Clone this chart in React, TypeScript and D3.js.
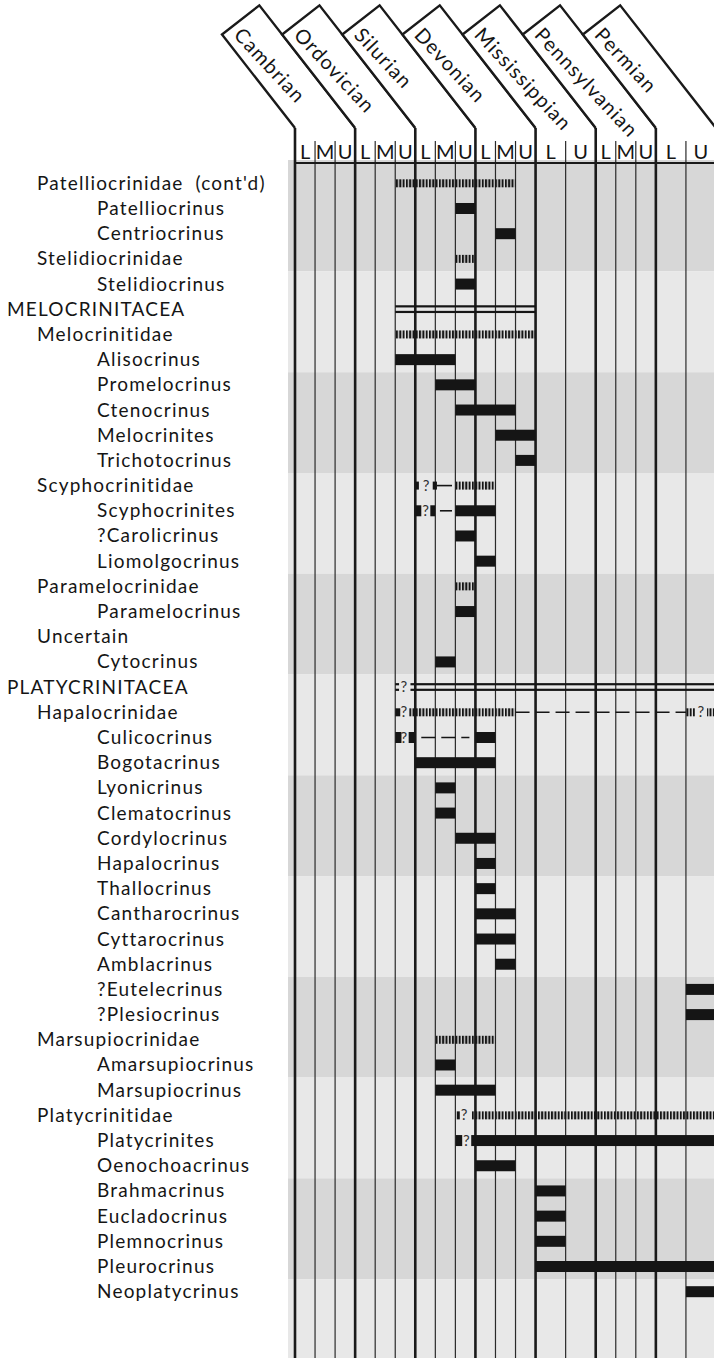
import React from 'react';
import * as d3 from 'd3';

const periods = ['Cambrian', 'Ordovician', 'Silurian', 'Devonian', 'Mississippian', 'Pennsylvanian', 'Permian'];
const divisions = [
  ['L', 'M', 'U'], ['L', 'M', 'U'], ['L', 'M', 'U'], ['L', 'M', 'U'], ['L', 'U'], ['L', 'M', 'U'], ['L', 'U'],
];

const taxa = [
  "Patelliocrinidae (cont'd)", 'Patelliocrinus', 'Centriocrinus', 'Stelidiocrinidae', 'Stelidiocrinus',
  'MELOCRINITACEA', 'Melocrinitidae', 'Alisocrinus', 'Promelocrinus', 'Ctenocrinus', 'Melocrinites',
  'Trichotocrinus', 'Scyphocrinitidae', 'Scyphocrinites', '?Carolicrinus', 'Liomolgocrinus',
  'Paramelocrinidae', 'Paramelocrinus', 'Uncertain', 'Cytocrinus', 'PLATYCRINITACEA', 'Hapalocrinidae',
  'Culicocrinus', 'Bogotacrinus', 'Lyonicrinus', 'Clematocrinus', 'Cordylocrinus', 'Hapalocrinus',
  'Thallocrinus', 'Cantharocrinus', 'Cyttarocrinus', 'Amblacrinus', '?Eutelecrinus', '?Plesiocrinus',
  'Marsupiocrinidae', 'Amarsupiocrinus', 'Marsupiocrinus', 'Platycrinitidae', 'Platycrinites',
  'Oenochoacrinus', 'Brahmacrinus', 'Eucladocrinus', 'Plemnocrinus', 'Pleurocrinus', 'Neoplatycrinus',
];
const levels = [
  1, 2, 2, 1, 2,
  0, 1, 2, 2, 2, 2,
  2, 1, 2, 2, 2,
  1, 2, 1, 2, 0, 1,
  2, 2, 2, 2, 2, 2,
  2, 2, 2, 2, 2, 2,
  1, 2, 2, 1, 2,
  2, 2, 2, 2, 2, 2,
];

// [row, from, to, kind] ; time in period units (0 = base of Cambrian, 7 = top of Permian)
type Range = [number, number, number, string];
const ranges: Range[] = [
  [0, 1.667, 3.667, 'hatch'],
  [1, 2.667, 3, 'bar'],
  [2, 3.333, 3.667, 'bar'],
  [3, 2.667, 3, 'hatch'],
  [4, 2.667, 3, 'bar'],
  [5, 1.667, 4, 'double'],
  [6, 1.667, 4, 'hatch'],
  [7, 1.667, 2.667, 'bar'],
  [8, 2.333, 3, 'bar'],
  [9, 2.667, 3.667, 'bar'],
  [10, 3.333, 4, 'bar'],
  [11, 3.667, 4, 'bar'],
  [12, 2.0, 2.06, 'block'],
  [12, 2.29, 2.36, 'block'],
  [12, 2.36, 2.61, 'line'],
  [12, 2.667, 3.333, 'hatch'],
  [13, 2.0, 2.1, 'bar'],
  [13, 2.25, 2.33, 'bar'],
  [13, 2.41, 2.61, 'line'],
  [13, 2.667, 3.333, 'bar'],
  [14, 2.667, 3, 'bar'],
  [15, 3, 3.333, 'bar'],
  [16, 2.667, 3, 'hatch'],
  [17, 2.667, 3, 'bar'],
  [19, 2.333, 2.667, 'bar'],
  [20, 1.667, 1.73, 'double'],
  [20, 1.92, 7, 'double'],
  [21, 1.667, 1.75, 'block'],
  [21, 1.9, 3.667, 'hatch'],
  [21, 3.667, 6.5, 'dash'],
  [21, 6.5, 6.65, 'hatch'],
  [21, 6.85, 7, 'hatch'],
  [22, 1.667, 1.77, 'bar'],
  [22, 1.89, 2.0, 'bar'],
  [22, 2.1, 2.9, 'dash'],
  [22, 3, 3.333, 'bar'],
  [23, 2, 3.333, 'bar'],
  [24, 2.333, 2.667, 'bar'],
  [25, 2.333, 2.667, 'bar'],
  [26, 2.667, 3.333, 'bar'],
  [27, 3, 3.333, 'bar'],
  [28, 3, 3.333, 'bar'],
  [29, 3, 3.667, 'bar'],
  [30, 3, 3.667, 'bar'],
  [31, 3.333, 3.667, 'bar'],
  [32, 6.5, 7, 'bar'],
  [33, 6.5, 7, 'bar'],
  [34, 2.333, 3.333, 'hatch'],
  [35, 2.333, 2.667, 'bar'],
  [36, 2.333, 3.333, 'bar'],
  [37, 2.69, 2.74, 'block'],
  [37, 2.93, 7, 'hatch'],
  [38, 2.673, 2.78, 'bar'],
  [38, 2.93, 7, 'bar'],
  [39, 3, 3.667, 'bar'],
  [40, 4, 4.5, 'bar'],
  [41, 4, 4.5, 'bar'],
  [42, 4, 4.5, 'bar'],
  [43, 4, 7, 'bar'],
  [44, 6.5, 7, 'bar'],
];

// [row, position] of "?" marks
const queries: [number, number][] = [
  [12, 2.18], [13, 2.17], [20, 1.81], [21, 1.81], [21, 6.75], [22, 1.81], [37, 2.81], [38, 2.85],
];

const W = 714;
const H = 1360;
const FONT = 'Lato, "Open Sans", sans-serif';
const INK = '#151515';

function Label({ text, x, y }: { text: string; x: number; y: number }) {
  const m = text.match(/^(.*?)\s(\(.*\))$/);
  return (
    <text x={x} y={y} fontFamily={FONT} fontSize={19} letterSpacing={1.2} fill={INK}>
      {m ? (
        <>
          <tspan>{m[1]}</tspan>
          <tspan dx={12}>{m[2]}</tspan>
        </>
      ) : (
        text
      )}
    </text>
  );
}

export default function App() {
  const x = d3.scaleLinear().domain([0, 7]).range([295, 716]);
  const y = d3.scaleLinear().domain([0, 44]).range([183.3, 1291.7]);
  const rowH = y(1) - y(0);
  const chartTop = 163;
  const chartBottom = 1358;
  const grayLeft = 288;
  const vTop = 128;
  const theta = (52 * Math.PI) / 180;
  const textAngle = 47;
  const ta = (textAngle * Math.PI) / 180;
  const u = [Math.cos(theta), Math.sin(theta)];
  const n = [Math.sin(theta), -Math.cos(theta)];
  const D = 118.6;

  const nBands = Math.ceil(47 / 4);
  const bands = d3.range(nBands).map((k) => {
    const y0 = k === 0 ? 160 : y(4 * k) - rowH / 2;
    const y1 = Math.min(y(4 * k + 4) - rowH / 2, chartBottom);
    return { y0, y1, fill: k % 2 === 0 ? '#d7d7d7' : '#e8e8e8' };
  });

  const subLines: number[] = [];
  const subLabels: { cx: number; t: string }[] = [];
  divisions.forEach((divs, i) => {
    divs.forEach((d, j) => {
      const a = i + j / divs.length;
      const b = i + (j + 1) / divs.length;
      if (j > 0) subLines.push(a);
      subLabels.push({ cx: (x(a) + x(b)) / 2, t: d });
    });
  });

  const strips = periods.map((p, i) => {
    const xa = x(i);
    const xb = x(i + 1);
    const L = [xa - D * u[0], vTop - D * u[1]];
    const w = (xb - xa) * Math.sin(theta);
    const T = [L[0] + w * n[0], L[1] + w * n[1]];
    const tx = L[0] + 15 * n[0] + 7 * Math.cos(ta);
    const ty = L[1] + 15 * n[1] + 7 * Math.sin(ta);
    return { p, xa, xb, L, T, tx, ty };
  });

  return (
    <svg width={W} height={H} viewBox={`0 0 ${W} ${H}`} style={{ position: 'absolute', left: 0, top: 0, background: '#fff' }}>
      <defs>
        <pattern id="hatch" patternUnits="userSpaceOnUse" width={3.3} height={20} x={0} y={0}>
          <rect x={0} y={0} width={2} height={20} fill={INK} />
        </pattern>
      </defs>
      <rect x={0} y={0} width={W} height={H} fill="#fff" />
      {bands.map((b, k) => (
        <rect key={k} x={grayLeft} y={b.y0} width={W - grayLeft} height={b.y1 - b.y0} fill={b.fill} />
      ))}
      {subLines.map((a, k) => (
        <line key={k} x1={x(a)} x2={x(a)} y1={141} y2={chartBottom} stroke="#2a2a2a" strokeWidth={1.2} />
      ))}
      {d3.range(0, 8).map((i) => (
        <line key={i} x1={x(i)} x2={x(i)} y1={vTop} y2={chartBottom} stroke="#1a1a1a" strokeWidth={2.6} />
      ))}
      <line x1={x(0) - 1} x2={W} y1={chartTop} y2={chartTop} stroke="#1a1a1a" strokeWidth={2.2} />

      {ranges.map(([r, a, b, kind], k) => {
        const cy = y(r);
        const x0 = x(a);
        const x1 = x(b);
        if (kind === 'bar') return <rect key={k} x={x0} y={cy - 5.5} width={x1 - x0} height={11} fill={INK} />;
        if (kind === 'block') return <rect key={k} x={x0} y={cy - 4} width={x1 - x0} height={8} fill={INK} />;
        if (kind === 'hatch') return <rect key={k} x={x0} y={cy - 4} width={x1 - x0} height={8} fill="url(#hatch)" />;
        if (kind === 'double')
          return (
            <g key={k}>
              <rect x={x0} y={cy - 4} width={x1 - x0} height={2.2} fill={INK} />
              <rect x={x0} y={cy + 1.6} width={x1 - x0} height={2.2} fill={INK} />
            </g>
          );
        if (kind === 'dash')
          return <line key={k} x1={x0} x2={x1} y1={cy} y2={cy} stroke={INK} strokeWidth={1.6} strokeDasharray="14 6" />;
        if (kind === 'line') return <line key={k} x1={x0} x2={x1} y1={cy} y2={cy} stroke={INK} strokeWidth={1.6} />;
        return null;
      })}
      {queries.map(([r, a], k) => (
        <text key={k} x={x(a)} y={y(r) + 5} textAnchor="middle" fontFamily={FONT} fontSize={15} fill="#333">
          ?
        </text>
      ))}

      {taxa.map((t, i) => (
        <Label key={i} text={t} x={[7, 37, 97][levels[i]]} y={y(i) + 6.5} />
      ))}

      {strips.map((s, i) => (
        <g key={i}>
          <path
            d={`M${s.xa},${vTop} L${s.L[0]},${s.L[1]} L${s.T[0]},${s.T[1]} L${s.xb},${vTop}`}
            fill="#fff"
            stroke="#1a1a1a"
            strokeWidth={2.4}
            strokeLinejoin="miter"
          />
          <text
            x={s.tx}
            y={s.ty}
            transform={`rotate(${textAngle}, ${s.tx}, ${s.ty})`}
            dominantBaseline="central"
            fontFamily={FONT}
            fontSize={20}
            letterSpacing={1.2}
            fill={INK}
          >
            {s.p}
          </text>
        </g>
      ))}
      {subLabels.map((s, k) => (
        <text key={k} x={s.cx} y={159} textAnchor="middle" fontFamily={FONT} fontSize={20} fill={INK}>
          {s.t}
        </text>
      ))}
    </svg>
  );
}
